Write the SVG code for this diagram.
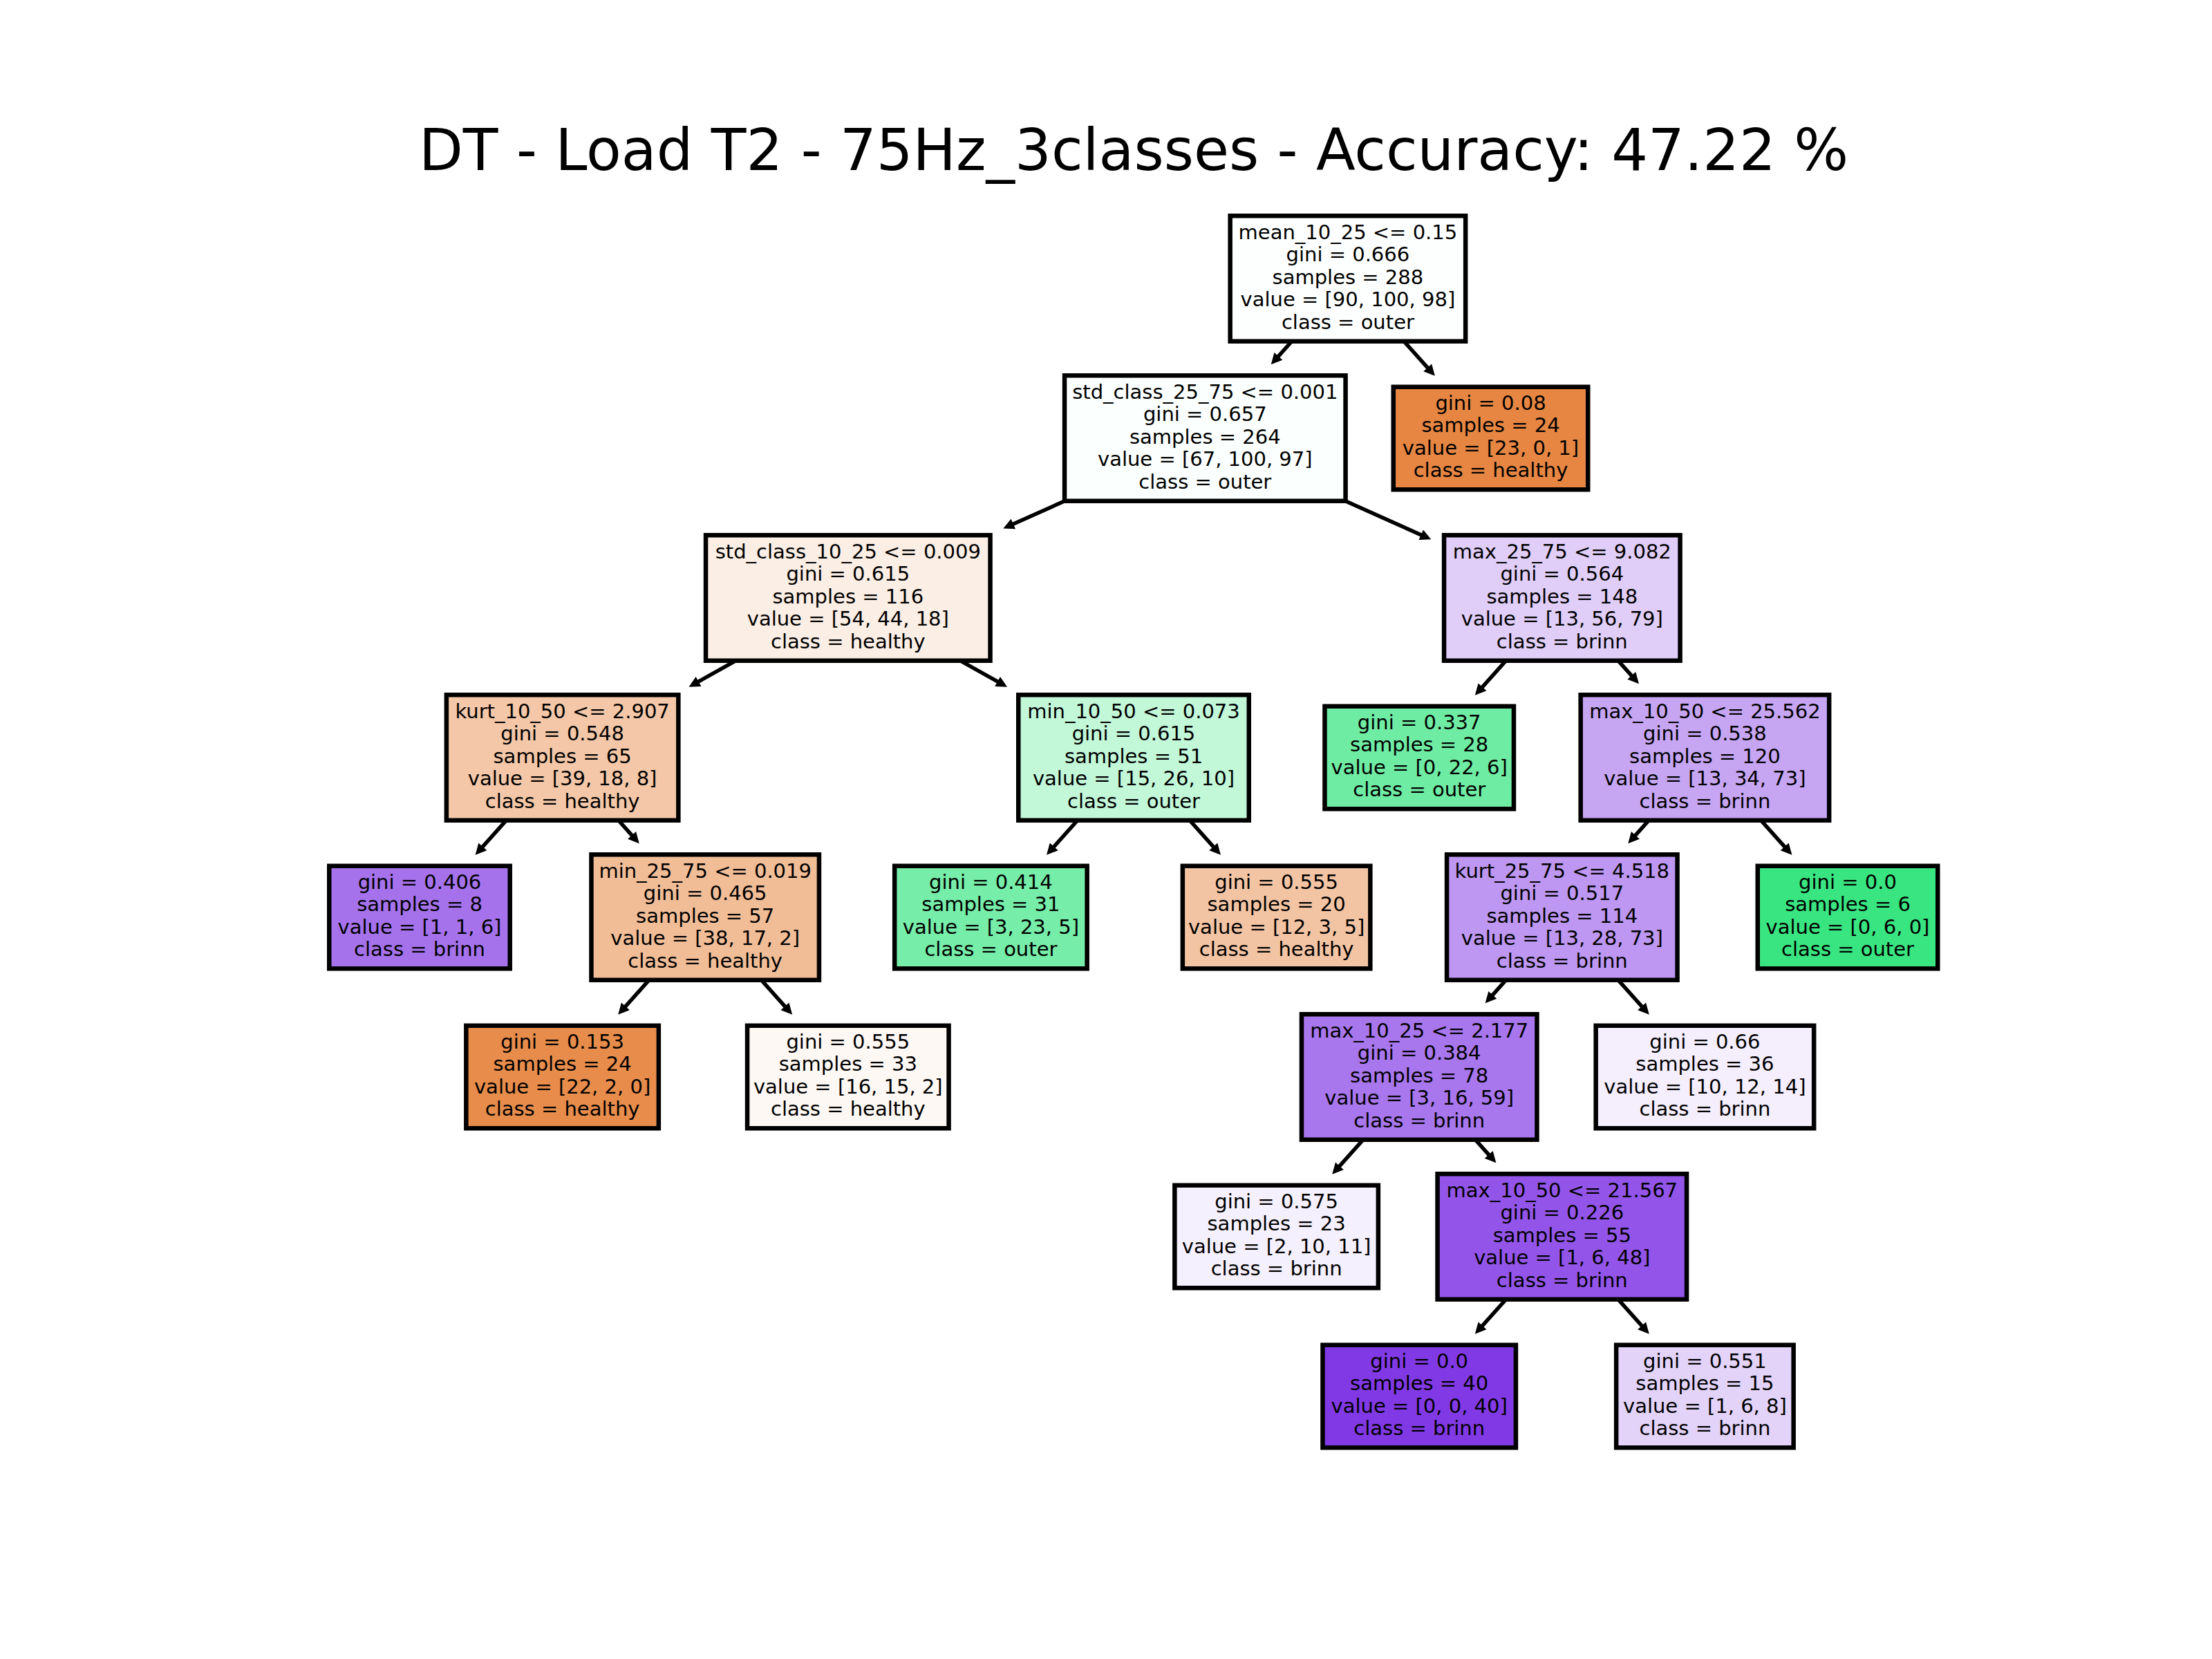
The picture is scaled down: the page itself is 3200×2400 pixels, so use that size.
<svg xmlns="http://www.w3.org/2000/svg" width="3200" height="2400" viewBox="0 0 3200 2400">
  <defs>
    <style>
      .box { stroke: #000; stroke-width: 6.5; }
      .lbl { font-family: "DejaVu Sans", "Liberation Sans", sans-serif; font-size: 29px; text-anchor: middle; fill: #000; }
      .title { font-family: "DejaVu Sans", "Liberation Sans", sans-serif; font-size: 83px; text-anchor: middle; fill: #000; }
      .edge { stroke: #000; stroke-width: 5.5; fill: none; marker-end: url(#ah); }
    </style>
    <marker id="ah" markerUnits="userSpaceOnUse" viewBox="-20 -20 40 40" markerWidth="40" markerHeight="40" refX="0" refY="0" orient="auto" overflow="visible">
      <path d="M-6,-8 L10,0 L-6,8 Z" fill="#000"/>
    </marker>
  </defs>

  <rect width="3200" height="2400" fill="#ffffff"/>

  <text class="title" x="1640" y="246">DT - Load T2 - 75Hz_3classes - Accuracy: 47.22 %</text>

  <!-- edges: parent centre to just above the child box -->
  <g id="connectors">
    <line class="edge" x1="1949.9" y1="403" x2="1845.4" y2="519.9"/>
    <line class="edge" x1="1949.9" y1="403" x2="2069.2" y2="536.4"/>
    <line class="edge" x1="1743.3" y1="634" x2="1460.4" y2="760.5"/>
    <line class="edge" x1="1743.3" y1="634" x2="2061.2" y2="776.2"/>
    <line class="edge" x1="1226.8" y1="865" x2="1005.3" y2="988.9"/>
    <line class="edge" x1="1226.8" y1="865" x2="1448.3" y2="988.9"/>
    <line class="edge" x1="2259.8" y1="865" x2="2140.5" y2="998.4"/>
    <line class="edge" x1="2259.8" y1="865" x2="2364.3" y2="981.9"/>
    <line class="edge" x1="813.6" y1="1096" x2="694.3" y2="1229.4"/>
    <line class="edge" x1="813.6" y1="1096" x2="918.1" y2="1212.9"/>
    <line class="edge" x1="1640" y1="1096" x2="1520.7" y2="1229.4"/>
    <line class="edge" x1="1640" y1="1096" x2="1759.3" y2="1229.4"/>
    <line class="edge" x1="2466.4" y1="1096" x2="2361.9" y2="1212.9"/>
    <line class="edge" x1="2466.4" y1="1096" x2="2585.7" y2="1229.4"/>
    <line class="edge" x1="1020.2" y1="1327" x2="900.9" y2="1460.4"/>
    <line class="edge" x1="1020.2" y1="1327" x2="1139.5" y2="1460.4"/>
    <line class="edge" x1="2259.8" y1="1327" x2="2155.3" y2="1443.9"/>
    <line class="edge" x1="2259.8" y1="1327" x2="2379.1" y2="1460.4"/>
    <line class="edge" x1="2053.2" y1="1558" x2="1933.9" y2="1691.4"/>
    <line class="edge" x1="2053.2" y1="1558" x2="2157.7" y2="1674.9"/>
    <line class="edge" x1="2259.8" y1="1789" x2="2140.5" y2="1922.4"/>
    <line class="edge" x1="2259.8" y1="1789" x2="2379.1" y2="1922.4"/>
  </g>

  <!-- depth 0 -->
  <g id="n0">
    <rect class="box" x="1779.65" y="312.25" width="340.5" height="181.5" fill="#fdfffe"/>
    <text class="lbl"><tspan x="1949.9" y="345.5">mean_10_25 &lt;= 0.15</tspan><tspan x="1949.9" y="378">gini = 0.666</tspan><tspan x="1949.9" y="410.5">samples = 288</tspan><tspan x="1949.9" y="443">value = [90, 100, 98]</tspan><tspan x="1949.9" y="475.5">class = outer</tspan></text>
  </g>

  <!-- depth 1 -->
  <g id="n1">
    <rect class="box" x="1540.05" y="543.25" width="406.5" height="181.5" fill="#fbfffd"/>
    <text class="lbl"><tspan x="1743.3" y="576.5">std_class_25_75 &lt;= 0.001</tspan><tspan x="1743.3" y="609">gini = 0.657</tspan><tspan x="1743.3" y="641.5">samples = 264</tspan><tspan x="1743.3" y="674">value = [67, 100, 97]</tspan><tspan x="1743.3" y="706.5">class = outer</tspan></text>
  </g>
  <g id="n2">
    <rect class="box" x="2015.75" y="559.75" width="281.5" height="148.5" fill="#e68642"/>
    <text class="lbl"><tspan x="2156.5" y="592.75">gini = 0.08</tspan><tspan x="2156.5" y="625.25">samples = 24</tspan><tspan x="2156.5" y="657.75">value = [23, 0, 1]</tspan><tspan x="2156.5" y="690.25">class = healthy</tspan></text>
  </g>

  <!-- depth 2 -->
  <g id="n3">
    <rect class="box" x="1021.05" y="774.25" width="411.5" height="181.5" fill="#fbeee4"/>
    <text class="lbl"><tspan x="1226.8" y="807.5">std_class_10_25 &lt;= 0.009</tspan><tspan x="1226.8" y="840">gini = 0.615</tspan><tspan x="1226.8" y="872.5">samples = 116</tspan><tspan x="1226.8" y="905">value = [54, 44, 18]</tspan><tspan x="1226.8" y="937.5">class = healthy</tspan></text>
  </g>
  <g id="n4">
    <rect class="box" x="2089.05" y="774.25" width="341.5" height="181.5" fill="#e0cef8"/>
    <text class="lbl"><tspan x="2259.8" y="807.5">max_25_75 &lt;= 9.082</tspan><tspan x="2259.8" y="840">gini = 0.564</tspan><tspan x="2259.8" y="872.5">samples = 148</tspan><tspan x="2259.8" y="905">value = [13, 56, 79]</tspan><tspan x="2259.8" y="937.5">class = brinn</tspan></text>
  </g>

  <!-- depth 3 -->
  <g id="n5">
    <rect class="box" x="645.85" y="1005.25" width="335.5" height="181.5" fill="#f3c7a7"/>
    <text class="lbl"><tspan x="813.6" y="1038.5">kurt_10_50 &lt;= 2.907</tspan><tspan x="813.6" y="1071">gini = 0.548</tspan><tspan x="813.6" y="1103.5">samples = 65</tspan><tspan x="813.6" y="1136">value = [39, 18, 8]</tspan><tspan x="813.6" y="1168.5">class = healthy</tspan></text>
  </g>
  <g id="n6">
    <rect class="box" x="1473.25" y="1005.25" width="333.5" height="181.5" fill="#c2f7d8"/>
    <text class="lbl"><tspan x="1640" y="1038.5">min_10_50 &lt;= 0.073</tspan><tspan x="1640" y="1071">gini = 0.615</tspan><tspan x="1640" y="1103.5">samples = 51</tspan><tspan x="1640" y="1136">value = [15, 26, 10]</tspan><tspan x="1640" y="1168.5">class = outer</tspan></text>
  </g>
  <g id="n7">
    <rect class="box" x="1916.45" y="1021.75" width="273.5" height="148.5" fill="#6feca3"/>
    <text class="lbl"><tspan x="2053.2" y="1054.75">gini = 0.337</tspan><tspan x="2053.2" y="1087.25">samples = 28</tspan><tspan x="2053.2" y="1119.75">value = [0, 22, 6]</tspan><tspan x="2053.2" y="1152.25">class = outer</tspan></text>
  </g>
  <g id="n8">
    <rect class="box" x="2286.65" y="1005.25" width="359.5" height="181.5" fill="#c6a5f3"/>
    <text class="lbl"><tspan x="2466.4" y="1038.5">max_10_50 &lt;= 25.562</tspan><tspan x="2466.4" y="1071">gini = 0.538</tspan><tspan x="2466.4" y="1103.5">samples = 120</tspan><tspan x="2466.4" y="1136">value = [13, 34, 73]</tspan><tspan x="2466.4" y="1168.5">class = brinn</tspan></text>
  </g>

  <!-- depth 4 -->
  <g id="n9">
    <rect class="box" x="476.25" y="1252.75" width="261.5" height="148.5" fill="#a572ec"/>
    <text class="lbl"><tspan x="607" y="1285.75">gini = 0.406</tspan><tspan x="607" y="1318.25">samples = 8</tspan><tspan x="607" y="1350.75">value = [1, 1, 6]</tspan><tspan x="607" y="1383.25">class = brinn</tspan></text>
  </g>
  <g id="n10">
    <rect class="box" x="855.45" y="1236.25" width="329.5" height="181.5" fill="#f1bd97"/>
    <text class="lbl"><tspan x="1020.2" y="1269.5">min_25_75 &lt;= 0.019</tspan><tspan x="1020.2" y="1302">gini = 0.465</tspan><tspan x="1020.2" y="1334.5">samples = 57</tspan><tspan x="1020.2" y="1367">value = [38, 17, 2]</tspan><tspan x="1020.2" y="1399.5">class = healthy</tspan></text>
  </g>
  <g id="n11">
    <rect class="box" x="1294.15" y="1252.75" width="278.5" height="148.5" fill="#76eda8"/>
    <text class="lbl"><tspan x="1433.4" y="1285.75">gini = 0.414</tspan><tspan x="1433.4" y="1318.25">samples = 31</tspan><tspan x="1433.4" y="1350.75">value = [3, 23, 5]</tspan><tspan x="1433.4" y="1383.25">class = outer</tspan></text>
  </g>
  <g id="n12">
    <rect class="box" x="1710.85" y="1252.75" width="271.5" height="148.5" fill="#f3c4a3"/>
    <text class="lbl"><tspan x="1846.6" y="1285.75">gini = 0.555</tspan><tspan x="1846.6" y="1318.25">samples = 20</tspan><tspan x="1846.6" y="1350.75">value = [12, 3, 5]</tspan><tspan x="1846.6" y="1383.25">class = healthy</tspan></text>
  </g>
  <g id="n13">
    <rect class="box" x="2093.05" y="1236.25" width="333.5" height="181.5" fill="#bd97f1"/>
    <text class="lbl"><tspan x="2259.8" y="1269.5">kurt_25_75 &lt;= 4.518</tspan><tspan x="2259.8" y="1302">gini = 0.517</tspan><tspan x="2259.8" y="1334.5">samples = 114</tspan><tspan x="2259.8" y="1367">value = [13, 28, 73]</tspan><tspan x="2259.8" y="1399.5">class = brinn</tspan></text>
  </g>
  <g id="n14">
    <rect class="box" x="2542.75" y="1252.75" width="260.5" height="148.5" fill="#39e581"/>
    <text class="lbl"><tspan x="2673" y="1285.75">gini = 0.0</tspan><tspan x="2673" y="1318.25">samples = 6</tspan><tspan x="2673" y="1350.75">value = [0, 6, 0]</tspan><tspan x="2673" y="1383.25">class = outer</tspan></text>
  </g>

  <!-- depth 5 -->
  <g id="n15">
    <rect class="box" x="674.35" y="1483.75" width="278.5" height="148.5" fill="#e78c4b"/>
    <text class="lbl"><tspan x="813.6" y="1516.75">gini = 0.153</tspan><tspan x="813.6" y="1549.25">samples = 24</tspan><tspan x="813.6" y="1581.75">value = [22, 2, 0]</tspan><tspan x="813.6" y="1614.25">class = healthy</tspan></text>
  </g>
  <g id="n16">
    <rect class="box" x="1081.05" y="1483.75" width="291.5" height="148.5" fill="#fef8f4"/>
    <text class="lbl"><tspan x="1226.8" y="1516.75">gini = 0.555</tspan><tspan x="1226.8" y="1549.25">samples = 33</tspan><tspan x="1226.8" y="1581.75">value = [16, 15, 2]</tspan><tspan x="1226.8" y="1614.25">class = healthy</tspan></text>
  </g>
  <g id="n17">
    <rect class="box" x="1882.95" y="1467.25" width="340.5" height="181.5" fill="#a876ed"/>
    <text class="lbl"><tspan x="2053.2" y="1500.5">max_10_25 &lt;= 2.177</tspan><tspan x="2053.2" y="1533">gini = 0.384</tspan><tspan x="2053.2" y="1565.5">samples = 78</tspan><tspan x="2053.2" y="1598">value = [3, 16, 59]</tspan><tspan x="2053.2" y="1630.5">class = brinn</tspan></text>
  </g>
  <g id="n18">
    <rect class="box" x="2308.65" y="1483.75" width="315.5" height="148.5" fill="#f4eefd"/>
    <text class="lbl"><tspan x="2466.4" y="1516.75">gini = 0.66</tspan><tspan x="2466.4" y="1549.25">samples = 36</tspan><tspan x="2466.4" y="1581.75">value = [10, 12, 14]</tspan><tspan x="2466.4" y="1614.25">class = brinn</tspan></text>
  </g>

  <!-- depth 6 -->
  <g id="n19">
    <rect class="box" x="1699.35" y="1714.75" width="294.5" height="148.5" fill="#f5f0fd"/>
    <text class="lbl"><tspan x="1846.6" y="1747.75">gini = 0.575</tspan><tspan x="1846.6" y="1780.25">samples = 23</tspan><tspan x="1846.6" y="1812.75">value = [2, 10, 11]</tspan><tspan x="1846.6" y="1845.25">class = brinn</tspan></text>
  </g>
  <g id="n20">
    <rect class="box" x="2079.55" y="1698.25" width="360.5" height="181.5" fill="#9355e9"/>
    <text class="lbl"><tspan x="2259.8" y="1731.5">max_10_50 &lt;= 21.567</tspan><tspan x="2259.8" y="1764">gini = 0.226</tspan><tspan x="2259.8" y="1796.5">samples = 55</tspan><tspan x="2259.8" y="1829">value = [1, 6, 48]</tspan><tspan x="2259.8" y="1861.5">class = brinn</tspan></text>
  </g>

  <!-- depth 7 -->
  <g id="n21">
    <rect class="box" x="1913.45" y="1945.75" width="279.5" height="148.5" fill="#8139e5"/>
    <text class="lbl"><tspan x="2053.2" y="1978.75">gini = 0.0</tspan><tspan x="2053.2" y="2011.25">samples = 40</tspan><tspan x="2053.2" y="2043.75">value = [0, 0, 40]</tspan><tspan x="2053.2" y="2076.25">class = brinn</tspan></text>
  </g>
  <g id="n22">
    <rect class="box" x="2338.15" y="1945.75" width="256.5" height="148.5" fill="#e3d3f9"/>
    <text class="lbl"><tspan x="2466.4" y="1978.75">gini = 0.551</tspan><tspan x="2466.4" y="2011.25">samples = 15</tspan><tspan x="2466.4" y="2043.75">value = [1, 6, 8]</tspan><tspan x="2466.4" y="2076.25">class = brinn</tspan></text>
  </g>
</svg>
